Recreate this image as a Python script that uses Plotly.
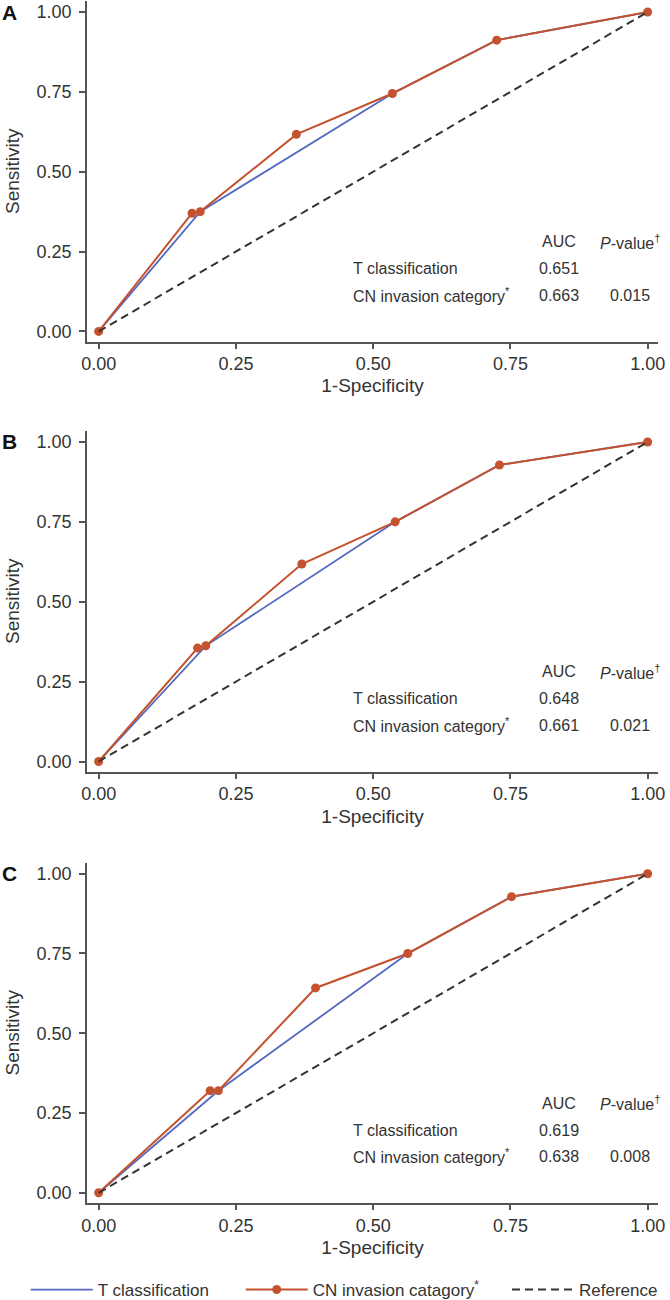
import plotly.graph_objects as go

# ---------------- data ----------------
panels = ["A", "B", "C"]

# CN invasion category ROC points (1-Specificity, Sensitivity)
cn_fpr_A = [0.0, 0.170, 0.185, 0.360, 0.535, 0.725, 1.0]
cn_tpr_A = [0.0, 0.370, 0.375, 0.617, 0.745, 0.912, 1.0]
cn_fpr_B = [0.0, 0.180, 0.195, 0.370, 0.540, 0.730, 1.0]
cn_tpr_B = [0.0, 0.355, 0.362, 0.618, 0.750, 0.928, 1.0]
cn_fpr_C = [0.0, 0.203, 0.218, 0.395, 0.563, 0.752, 1.0]
cn_tpr_C = [0.0, 0.320, 0.320, 0.642, 0.750, 0.928, 1.0]

# T classification ROC points
t_fpr_A = [0.0, 0.185, 0.535, 0.725, 1.0]
t_tpr_A = [0.0, 0.375, 0.745, 0.912, 1.0]
t_fpr_B = [0.0, 0.195, 0.540, 0.730, 1.0]
t_tpr_B = [0.0, 0.362, 0.750, 0.928, 1.0]
t_fpr_C = [0.0, 0.218, 0.563, 0.752, 1.0]
t_tpr_C = [0.0, 0.320, 0.750, 0.928, 1.0]

ref_x = [0.0, 1.0]
ref_y = [0.0, 1.0]

auc_t = ["0.651", "0.648", "0.619"]
auc_cn = ["0.663", "0.661", "0.638"]
p_values = ["0.015", "0.021", "0.008"]

tick_vals = [0.0, 0.25, 0.50, 0.75, 1.0]
tick_text = ["0.00", "0.25", "0.50", "0.75", "1.00"]

# ---------------- styling ----------------
RED = "#C4522F"
BLUE = "#5468C0"
DARK = "#333333"
AXIS = "#555555"
FONT = "Liberation Sans, Arial, Helvetica, sans-serif"

cn_fpr = [cn_fpr_A, cn_fpr_B, cn_fpr_C]
cn_tpr = [cn_tpr_A, cn_tpr_B, cn_tpr_C]
t_fpr = [t_fpr_A, t_fpr_B, t_fpr_C]
t_tpr = [t_tpr_A, t_tpr_B, t_tpr_C]

y_domains = [[0.7160, 0.9993], [0.3585, 0.6419], [0.0, 0.2830]]

fig = go.Figure()
layout_axes = {}
annotations = []

for i, p in enumerate(panels):
    sfx = "" if i == 0 else str(i + 1)
    xa, ya = "x" + sfx, "y" + sfx
    first = i == 0
    fig.add_trace(go.Scatter(
        x=t_fpr[i], y=t_tpr[i], mode="lines", name="T classification",
        line=dict(color=BLUE, width=1.8), xaxis=xa, yaxis=ya,
        showlegend=first, legendgroup="t", legend="legend"))
    fig.add_trace(go.Scatter(
        x=cn_fpr[i], y=cn_tpr[i], mode="lines+markers",
        name="CN invasion catagory<sup>*</sup>",
        line=dict(color=RED, width=2), marker=dict(color=RED, size=9),
        xaxis=xa, yaxis=ya, showlegend=first, legendgroup="cn",
        legend="legend2"))
    fig.add_trace(go.Scatter(
        x=ref_x, y=ref_y, mode="lines", name="Reference",
        line=dict(color=DARK, width=2, dash="8px,5px"),
        xaxis=xa, yaxis=ya, showlegend=first, legendgroup="ref",
        legend="legend3"))

    layout_axes["xaxis" + sfx] = dict(
        domain=[0, 1], anchor=ya, range=[-0.0213, 1.0188],
        tickvals=tick_vals, ticktext=tick_text, ticks="outside", ticklen=5,
        tickcolor=AXIS, tickwidth=1.5, showline=True, linecolor=AXIS,
        linewidth=1.8, showgrid=False, zeroline=False,
        tickfont=dict(size=18, color=DARK, family=FONT),
        title=dict(text="1-Specificity", font=dict(size=19, color=DARK, family=FONT),
                   standoff=6),
        automargin=False)
    layout_axes["yaxis" + sfx] = dict(
        domain=y_domains[i], anchor=xa, range=[-0.032, 1.035],
        tickvals=tick_vals, ticktext=tick_text, ticks="outside", ticklen=6,
        tickcolor=AXIS, tickwidth=1.5, showline=True, linecolor=AXIS,
        linewidth=1.8, showgrid=False, zeroline=False, ticklabelstandoff=4,
        tickfont=dict(size=18, color=DARK, family=FONT),
        title=dict(text="Sensitivity", font=dict(size=19, color=DARK, family=FONT),
                   standoff=12),
        automargin=False)

    tf = dict(size=16, color=DARK, family=FONT)
    rows = [
        (0.838, 0.281, "AUC", "center"),
        (0.967, 0.281, "<i>P</i>-value<sup>†</sup>", "center"),
        (0.460, 0.196, "T classification", "left"),
        (0.838, 0.196, auc_t[i], "center"),
        (0.460, 0.114, "CN invasion category<sup>*</sup>", "left"),
        (0.838, 0.114, auc_cn[i], "center"),
        (0.967, 0.114, p_values[i], "center"),
    ]
    for (ax_, ay_, txt, anc) in rows:
        annotations.append(dict(x=ax_, y=ay_, xref=xa, yref=ya, text=txt,
                                showarrow=False, xanchor=anc, yanchor="middle",
                                font=tf))
    annotations.append(dict(x=-0.1524, y=1.0, xref="paper", yref=ya,
                            text="<b>" + p + "</b>", showarrow=False,
                            xanchor="left", yanchor="middle",
                            font=dict(size=21, color="#111111", family=FONT)))

legend_common = dict(orientation="h", xref="container", yref="container",
                     xanchor="left", y=0.0077, yanchor="middle",
                     font=dict(size=17, color=DARK, family=FONT),
                     itemwidth=62, bgcolor="rgba(0,0,0,0)")

fig.update_layout(
    width=670, height=1300,
    margin=dict(l=87, r=12, t=0, b=97),
    paper_bgcolor="white", plot_bgcolor="white",
    font=dict(family=FONT, color=DARK),
    annotations=annotations,
    showlegend=True,
    legend=dict(x=0.0384, **legend_common),
    legend2=dict(x=0.3593, **legend_common),
    legend3=dict(x=0.7567, **legend_common),
    **layout_axes,
)

fig.write_html(
    "out.html",
    config={"displayModeBar": False},
    post_script="document.body.style.margin='0';document.body.style.overflow='hidden';",
)
